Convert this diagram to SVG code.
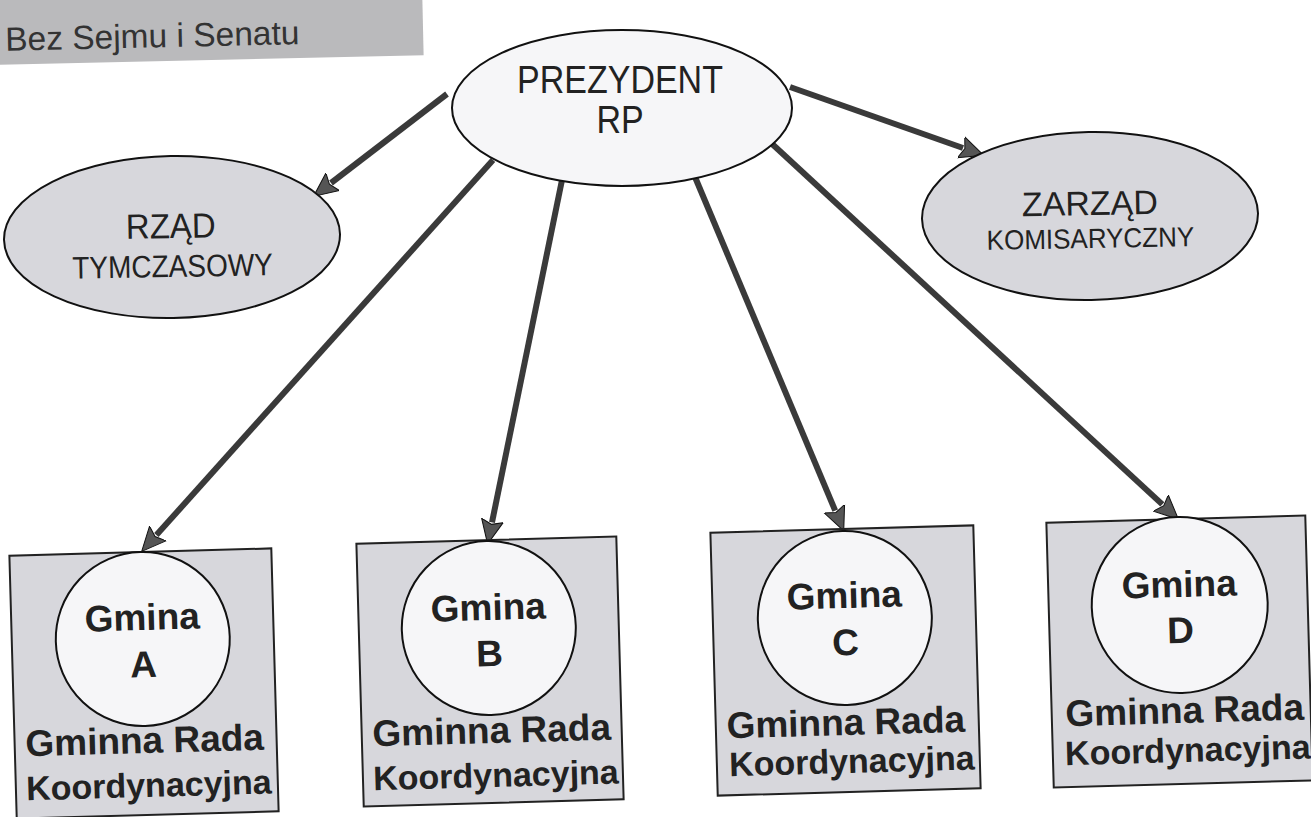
<svg xmlns="http://www.w3.org/2000/svg" width="1311" height="817" viewBox="0 0 1311 817">
<style>
text{font-family:"Liberation Sans",Arial,sans-serif;fill:#222;text-anchor:middle}
.g{fill:#d7d7dc;stroke:#111;stroke-width:2}
.w{fill:#f6f6f8;stroke:#111;stroke-width:2}
.box{fill:#d7d7dc;stroke:#222;stroke-width:2}
.b{font-weight:bold}
.conn{stroke:#3a3a3a;stroke-width:6;fill:none;marker-end:url(#ah)}
</style>
<defs>
<marker id="ah" markerUnits="userSpaceOnUse" markerWidth="26" markerHeight="26" viewBox="0 0 26 26" refX="2" refY="13" orient="auto">
<path d="M0,2 L24,13 L0,24 L4,13 z" fill="#555" stroke="#111" stroke-width="1"/>
</marker>
</defs>
<rect width="1311" height="817" fill="#fff"/>
<g id="label" transform="rotate(-1.3 211 30)">
<rect x="-10" y="-10" width="433" height="70" fill="#bababc"/>
<text x="5" y="46" style="text-anchor:start;fill:#333" font-size="33.5">Bez Sejmu i Senatu</text>
</g>
<g id="connectors">
<line class="conn" x1="447" y1="94" x2="331" y2="183"/>
<line class="conn" x1="790" y1="87" x2="963" y2="148"/>
<line class="conn" x1="493" y1="160" x2="156.4" y2="535"/>
<line class="conn" x1="562" y1="180" x2="492" y2="522.4"/>
<line class="conn" x1="695" y1="177" x2="835.2" y2="510.6"/>
<line class="conn" x1="770" y1="142" x2="1162.3" y2="504.4"/>
</g>
<g id="prezydent">
<ellipse class="w" cx="622" cy="108" rx="170" ry="78"/>
<text transform="translate(620 93) scale(1 1.14)" font-size="34">PREZYDENT</text>
<text transform="translate(620 133) scale(1 1.14)" font-size="34">RP</text>
</g>
<g id="rzad" transform="rotate(-1 172 237)">
<ellipse class="g" cx="172" cy="237" rx="168" ry="81"/>
<text transform="translate(171 238) scale(1 1.06)" font-size="33">RZĄD</text>
<text transform="translate(172 277) scale(1 1.12)" font-size="28">TYMCZASOWY</text>
</g>
<g id="zarzad" transform="rotate(-1 1090 216)">
<ellipse class="g" cx="1090" cy="216" rx="168" ry="84"/>
<text x="1090" y="215" font-size="34">ZARZĄD</text>
<text transform="translate(1090 248) scale(1 1.06)" font-size="26">KOMISARYCZNY</text>
</g>
<g id="gminaA" transform="rotate(-1.6 144 683)">
<rect class="box" x="13" y="552" width="262" height="263"/>
<circle class="w" cx="144" cy="639" r="87"/>
<text class="b" x="144" y="630" font-size="37">Gmina</text>
<text class="b" x="144" y="677" font-size="37">A</text>
<text class="b" x="143" y="753" font-size="37">Gminna Rada</text>
<text class="b" x="146" y="797" font-size="34">Koordynacyjna</text>
</g>
<g id="gminaB" transform="rotate(-1.6 490 671)">
<rect class="box" x="360" y="540" width="260" height="263"/>
<circle class="w" cx="490" cy="628" r="87"/>
<text class="b" x="490" y="620" font-size="37">Gmina</text>
<text class="b" x="490" y="666" font-size="37">B</text>
<text class="b" x="490" y="743" font-size="37">Gminna Rada</text>
<text class="b" x="493" y="787" font-size="34">Koordynacyjna</text>
</g>
<g id="gminaC" transform="rotate(-1.6 846 660)">
<rect class="box" x="714" y="529" width="263" height="263"/>
<circle class="w" cx="846" cy="618" r="87"/>
<text class="b" x="846" y="608" font-size="37">Gmina</text>
<text class="b" x="846" y="655" font-size="37">C</text>
<text class="b" x="844" y="735" font-size="37">Gminna Rada</text>
<text class="b" x="849" y="773" font-size="34">Koordynacyjna</text>
</g>
<g id="gminaD" transform="rotate(-1.6 1180 651)">
<rect class="box" x="1050" y="519" width="259" height="265"/>
<circle class="w" cx="1181" cy="605" r="88"/>
<text class="b" x="1181" y="597" font-size="37">Gmina</text>
<text class="b" x="1181" y="643" font-size="37">D</text>
<text class="b" x="1183" y="723" font-size="37">Gminna Rada</text>
<text class="b" x="1185" y="762" font-size="34">Koordynacyjna</text>
</g>
</svg>
